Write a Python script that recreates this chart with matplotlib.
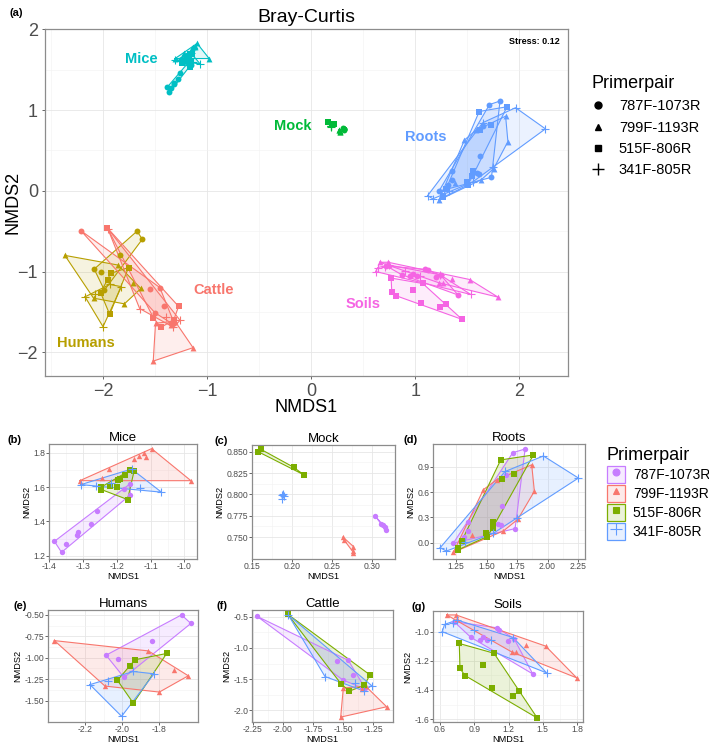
import matplotlib
matplotlib.use("Agg")
import matplotlib.pyplot as plt
from matplotlib.ticker import MultipleLocator, FixedLocator
from matplotlib.lines import Line2D
from matplotlib.patches import Patch
from matplotlib.legend_handler import HandlerTuple

plt.rcParams["font.family"] = ["Liberation Sans", "DejaVu Sans"]

# primer pairs (same order in every list below)
primers = ["787F-1073R", "799F-1193R", "515F-806R", "341F-805R"]
markers = ["o", "^", "s", "+"]
primer_colors = ["#C77CFF", "#F8766D", "#7CAE00", "#619CFF"]

# NMDS coordinates per sample type, one list per primer pair
mice_x = [[-1.384, -1.363, -1.351, -1.318, -1.315, -1.277, -1.259, -1.179, -1.161, -1.160],
          [-1.309, -1.243, -1.223, -1.148, -1.134, -1.120, -1.114, -1.097, -0.981],
          [-1.245, -1.245, -1.220, -1.200, -1.195, -1.190, -1.176, -1.161, -1.149, -1.168],
          [-1.306, -1.261, -1.216, -1.156, -1.068, -1.132]]
mice_y = [[1.284, 1.220, 1.270, 1.320, 1.336, 1.384, 1.463, 1.592, 1.619, 1.555],
          [1.638, 1.654, 1.706, 1.763, 1.783, 1.798, 1.775, 1.825, 1.638],
          [1.586, 1.602, 1.607, 1.602, 1.640, 1.648, 1.673, 1.698, 1.692, 1.528],
          [1.615, 1.609, 1.625, 1.706, 1.571, 1.596]]

mock_x = [[0.304, 0.312, 0.314, 0.316, 0.318],
          [0.264, 0.265, 0.277, 0.277, 0.277],
          [0.158, 0.161, 0.202, 0.215],
          [0.187, 0.189, 0.188, 0.190]]
mock_y = [[0.775, 0.765, 0.764, 0.762, 0.758],
          [0.750, 0.747, 0.739, 0.734, 0.732],
          [0.850, 0.853, 0.832, 0.823],
          [0.799, 0.801, 0.795, 0.798]]

roots_x = [[1.715, 1.816, 1.657, 1.624, 1.596, 1.615, 1.734, 1.351, 1.351, 1.316, 1.228],
           [1.870, 1.892, 1.756, 1.638, 1.474, 1.379, 1.228, 1.583],
           [1.616, 1.884, 1.624, 1.725, 1.556, 1.551, 1.496, 1.507, 1.297, 1.270, 1.270],
           [1.966, 2.253, 1.747, 1.652, 1.556, 1.324, 1.120, 1.170]]
roots_y = [[1.068, 1.112, 0.806, 0.433, 0.218, 0.214, 0.167, 0.245, 0.139, 0.073, -0.006],
           [0.924, 0.610, 0.276, 0.139, 0.629, 0.092, -0.115, 0.747],
           [0.982, 1.041, 0.755, 0.818, 0.245, 0.179, 0.112, 0.073, 0.021, -0.068, -0.083],
           [1.029, 0.767, 0.296, 0.845, 0.112, 0.002, -0.060, -0.100]]

humans_x = [[-1.675, -1.624, -1.838, -2.087, -2.020, -1.989],
            [-2.369, -1.856, -1.716, -1.638, -1.796, -2.093],
            [-1.756, -1.929, -1.956, -2.025, -1.938],
            [-2.175, -2.075, -1.825, -2.002, -1.938]]
humans_y = [[-0.500, -0.600, -0.800, -0.970, -1.010, -1.230],
            [-0.800, -0.920, -1.140, -1.210, -1.400, -1.330],
            [-0.950, -1.023, -1.099, -1.263, -1.530],
            [-1.313, -1.275, -1.187, -1.683, -1.160]]

cattle_x = [[-2.214, -1.456, -1.553, -1.414, -1.503, -1.344, -1.317],
            [-1.497, -1.310, -1.136, -1.519, -1.344],
            [-1.961, -1.275, -1.517, -1.447, -1.322],
            [-1.956, -1.650, -1.400, -1.261, -1.325]]
cattle_y = [[-0.495, -1.198, -1.214, -1.432, -1.510, -1.640, -1.640],
            [-1.640, -1.615, -1.943, -2.109, -1.665],
            [-0.458, -1.432, -1.573, -1.693, -1.599],
            [-0.469, -1.458, -1.563, -1.604, -1.690]]

soils_x = [[0.723, 1.096, 1.119, 0.869, 0.950, 0.979, 1.014, 1.198, 1.248, 1.412],
           [0.659, 0.740, 0.752, 1.353, 1.525, 1.228, 1.263, 1.797],
           [0.769, 1.073, 0.775, 0.979, 0.819, 1.052, 1.292, 1.242, 1.452],
           [0.640, 0.711, 0.750, 0.900, 1.050, 1.240, 1.534, 0.620]]
soils_y = [[-0.931, -0.973, -0.987, -1.038, -1.054, -1.036, -1.054, -1.065, -1.047, -1.290],
           [-0.885, -0.885, -0.914, -1.088, -1.099, -1.139, -1.139, -1.317],
           [-1.081, -1.148, -1.252, -1.229, -1.301, -1.387, -1.405, -1.443, -1.593],
           [-0.950, -0.941, -0.920, -0.990, -1.060, -1.040, -1.283, -1.000]]

samples = ["Mice", "Mock", "Roots", "Humans", "Cattle", "Soils"]
sample_x = [mice_x, mock_x, roots_x, humans_x, cattle_x, soils_x]
sample_y = [mice_y, mock_y, roots_y, humans_y, cattle_y, soils_y]
sample_colors = ["#00BFC4", "#00BA38", "#619CFF", "#B79F00", "#F8766D", "#F564E3"]
label_pos = [(-1.63, 1.63), (-0.18, 0.80), (1.10, 0.665), (-2.17, -1.89), (-0.94, -1.23), (0.50, -1.40)]


def convex_hull(xs, ys):
    pts = sorted(set(zip(xs, ys)))
    if len(pts) < 3:
        return pts

    def cross(o, a, b):
        return (a[0] - o[0]) * (b[1] - o[1]) - (a[1] - o[1]) * (b[0] - o[0])

    lower, upper = [], []
    for p in pts:
        while len(lower) >= 2 and cross(lower[-2], lower[-1], p) <= 0:
            lower.pop()
        lower.append(p)
    for p in reversed(pts):
        while len(upper) >= 2 and cross(upper[-2], upper[-1], p) <= 0:
            upper.pop()
        upper.append(p)
    return lower[:-1] + upper[:-1]


def draw_group(ax, xs, ys, color, marker, size, fill_alpha):
    h = convex_hull(xs, ys)
    hx = [p[0] for p in h] + [h[0][0]]
    hy = [p[1] for p in h] + [h[0][1]]
    ax.fill(hx, hy, color=color, alpha=fill_alpha, lw=0, zorder=2)
    ax.plot(hx, hy, color=color, lw=0.8, zorder=3)
    if marker == "+":
        ax.scatter(xs, ys, s=size * 1.8, marker=marker, color=color, linewidths=0.8, zorder=4)
    else:
        ax.scatter(xs, ys, s=size, marker=marker, color=color, linewidths=0, zorder=4)


def style_axes(ax, tick_size, major, minor):
    ax.set_facecolor("white")
    for s in ax.spines.values():
        s.set_color("#8C8C8C")
        s.set_linewidth(0.9)
    ax.xaxis.set_major_locator(major[0])
    ax.yaxis.set_major_locator(major[1])
    ax.xaxis.set_minor_locator(minor[0])
    ax.yaxis.set_minor_locator(minor[1])
    ax.grid(which="major", color="#E6E6E6", lw=0.6, zorder=0)
    ax.grid(which="minor", color="#F2F2F2", lw=0.4, zorder=0)
    ax.set_axisbelow(True)
    ax.tick_params(which="major", labelsize=tick_size, colors="#4D4D4D", length=2, width=0.6, pad=0.5)
    ax.tick_params(which="minor", length=0)


W, H = 709, 746
fig = plt.figure(figsize=(W / 100, H / 100), dpi=100)


def box(l, r, t, b):
    return [l / W, 1 - b / H, (r - l) / W, (b - t) / H]


# ---- panel (a): all samples
ax = fig.add_axes(box(45, 568, 28.5, 375.7))
for sx, sy, col in zip(sample_x, sample_y, sample_colors):
    for k in range(4):
        draw_group(ax, sx[k], sy[k], col, markers[k], 18, 0.12)
for name, col, (lx, ly) in zip(samples, sample_colors, label_pos):
    ax.text(lx, ly, name, color=col, fontsize=10.5, fontweight="bold", ha="center", va="center")
ax.set_xlim(-2.56, 2.47)
ax.set_ylim(-2.29, 2.01)
style_axes(ax, 13, (MultipleLocator(1), MultipleLocator(1)), (MultipleLocator(0.5), MultipleLocator(0.5)))
ax.tick_params(which="major", pad=2.5, length=2.5)
ax.set_xlabel("NMDS1", fontsize=13)
ax.set_ylabel("NMDS2", fontsize=13)
ax.xaxis.set_label_coords(0.5, -(407 - 375.7) / 347.2)
ax.xaxis.label.set_va("center")
ax.yaxis.set_label_coords(-(45 - 13) / 523, 0.5)
ax.yaxis.label.set_va("center")
ax.set_title("Bray-Curtis", fontsize=14, pad=5)
ax.text(0.985, 0.975, "Stress: 0.12", transform=ax.transAxes, ha="right", va="top",
        fontsize=6.5, fontweight="bold")
fig.text(10 / W, 1 - 13 / H, "(a)", fontsize=8, fontweight="bold", va="center")

top_handles = [Line2D([], [], marker=m, color="black", linestyle="", markersize=5 if m != "+" else 8,
                      markeredgewidth=1) for m in markers]
fig.legend(top_handles, primers, loc="upper left", bbox_to_anchor=(578 / W, 1 - 62 / H),
           frameon=False, title="Primerpair", title_fontsize=13, fontsize=10.5,
           handlelength=1.0, handletextpad=0.9, labelspacing=0.5, alignment="left")

# ---- small panels
panels = [
    ("Mice", "(b)", mice_x, mice_y, (49, 197, 444, 559), (-1.40, -0.963), (1.181, 1.852),
     [-1.4, -1.3, -1.2, -1.1, -1.0], [1.2, 1.4, 1.6, 1.8], "%.1f", "%.1f"),
    ("Mock", "(c)", mock_x, mock_y, (252, 395, 445, 559), (0.15, 0.329), (0.7244, 0.858),
     [0.15, 0.20, 0.25, 0.30], [0.750, 0.775, 0.800, 0.825, 0.850], "%.2f", "%.3f"),
    ("Roots", "(d)", roots_x, roots_y, (433, 585, 444, 559), (1.061, 2.307), (-0.194, 1.171),
     [1.25, 1.50, 1.75, 2.00, 2.25], [0.0, 0.3, 0.6, 0.9], "%.2f", "%.1f"),
    ("Humans", "(e)", humans_x, humans_y, (48, 198, 610, 722), (-2.404, -1.585), (-1.749, -0.443),
     [-2.2, -2.0, -1.8], [-1.50, -1.25, -1.00, -0.75, -0.50], "%.1f", "%.2f"),
    ("Cattle", "(f)", cattle_x, cattle_y, (252, 393, 610, 722), (-2.258, -1.083), (-2.1875, -0.391),
     [-2.25, -2.00, -1.75, -1.50, -1.25], [-2.0, -1.5, -1.0, -0.5], "%.2f", "%.1f"),
    ("Soils", "(g)", soils_x, soils_y, (433, 583, 611, 722), (0.539, 1.852), (-1.62, -0.858),
     [0.6, 0.9, 1.2, 1.5, 1.8], [-1.6, -1.4, -1.2, -1.0], "%.1f", "%.1f"),
]

tag_x = {"(b)": 8, "(c)": 215, "(d)": 403, "(e)": 14, "(f)": 216, "(g)": 412}
for title, tag, px_, py_, edges, xl, yl, xt, yt, xf, yf in panels:
    l, r, t, b = edges
    ax = fig.add_axes(box(l, r, t, b))
    for k in range(4):
        draw_group(ax, px_[k], py_[k], primer_colors[k], markers[k], 15, 0.15)
    ax.set_xlim(*xl)
    ax.set_ylim(*yl)
    xminor = [(a + c) / 2 for a, c in zip(xt[:-1], xt[1:])]
    yminor = [(a + c) / 2 for a, c in zip(yt[:-1], yt[1:])]
    style_axes(ax, 6.2, (FixedLocator(xt), FixedLocator(yt)), (FixedLocator(xminor), FixedLocator(yminor)))
    ax.set_xticklabels([xf % v for v in xt])
    ax.set_yticklabels([yf % v for v in yt])
    ax.set_xlabel("NMDS1", fontsize=6.6)
    ax.set_ylabel("NMDS2", fontsize=6.6, labelpad=1.5)
    ax.xaxis.set_label_coords(0.5, -17.5 / (b - t))
    ax.xaxis.label.set_va("center")
    ax.set_title(title, fontsize=9.5, pad=2)
    fig.text(tag_x[tag] / W, 1 - (t - 4) / H, tag, fontsize=8, fontweight="bold", va="center")

bottom_handles = [(Patch(facecolor=c, alpha=0.15, edgecolor="none"),
                   Patch(facecolor="none", edgecolor=c, linewidth=0.9),
                   Line2D([], [], marker=m, color=c, linestyle="", markersize=5 if m != "+" else 8,
                          markeredgewidth=0.8))
                  for c, m in zip(primer_colors, markers)]
fig.legend(bottom_handles, primers, loc="upper left", bbox_to_anchor=(594 / W, 1 - 434 / H),
           frameon=False, title="Primerpair", title_fontsize=13, fontsize=10,
           handler_map={tuple: HandlerTuple(ndivide=1, pad=0)},
           handlelength=1.3, handleheight=1.5, handletextpad=0.6, labelspacing=0.15, alignment="left")

fig.savefig("out.png", dpi=100)
